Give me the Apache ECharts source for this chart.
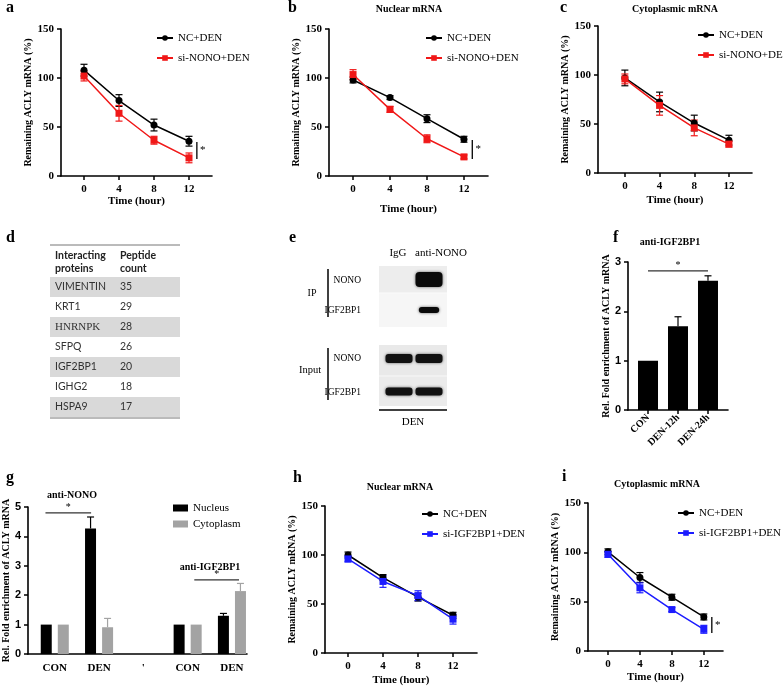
<!DOCTYPE html>
<html><head><meta charset="utf-8">
<script src="https://cdn.jsdelivr.net/npm/echarts@6/dist/echarts.min.js"></script>
<style>html,body{margin:0;padding:0;background:#fff}#c{width:783px;height:689px}</style>
</head><body><div id="c"></div><script>
// ---------- DATA ----------
const timePoints = [0, 4, 8, 12];
// panel a
const aNC = [108, 77, 52, 35.5];
const aNCErr = [6, 6, 6, 5];
const aSi = [102, 64, 36.5, 18.5];
const aSiErr = [5, 8, 4, 5];
const sigA = [12.9, 17.3, 34.7];
// panel b
const bNC = [98, 80, 58.5, 37.5];
const bNCErr = [3, 2, 4, 3];
const bSi = [103.5, 68, 38, 19.5];
const bSiErr = [5, 3, 4, 2];
const sigB = [12.9, 17.3, 36.7];
// panel c
const cNC = [97, 72.5, 51, 33.5];
const cNCErr = [8, 10, 8, 5];
const cSi = [96, 69, 46, 29.5];
const cSiErr = [5, 10, 8, 3];
// panel d (table)
const tableHeader = [['Interacting', 'proteins'], ['Peptide', 'count']];
const tableProteins = ['VIMENTIN', 'KRT1', 'HNRNPK', 'SFPQ', 'IGF2BP1', 'IGHG2', 'HSPA9'];
const tableCounts = [35, 29, 28, 26, 20, 18, 17];
// panel e (blot)
const blotLanes = ['IgG', 'anti-NONO'];
const blotIPRows = ['NONO', 'IGF2BP1'];
const blotIP = [[0, 1.0], [0, 0.45]];
const blotInputRows = ['NONO', 'IGF2BP1'];
const blotInput = [[0.75, 0.75], [0.7, 0.7]];
// panel f
const fCats = ['CON', 'DEN-12h', 'DEN-24h'];
const fVals = [1, 1.70, 2.62];
const fErr = [0, 0.19, 0.10];
const sigF = [0, 2, 2.82];
// panel g
const gCats = ['CON', 'DEN', "'", 'CON', 'DEN'];
const gPos = [0, 1, 3, 4];
const gNucleus = [1, 4.27, 1, 1.30];
const gNucleusErr = [0, 0.39, 0, 0.08];
const gCyto = [1, 0.91, 1, 2.14];
const gCytoErr = [0, 0.30, 0, 0.26];
const sigG = [[-0.21, 0.82, 4.8], [3.15, 4.16, 2.52]];
// panel h
const hNC = [100, 77, 57, 38.5];
const hNCErr = [3, 3, 4, 3];
const hSi = [96, 73, 58.5, 34.5];
const hSiErr = [3, 6, 5, 5];
// panel i
const iNC = [100.5, 74.5, 54.5, 34.5];
const iNCErr = [3, 5, 3, 3];
const iSi = [98, 64, 42, 22];
const iSiErr = [3, 5, 2, 4];
const sigI = [13, 18.2, 34.5];

// ---------- STYLE ----------
const serif = 'Liberation Serif';
const sans = 'Liberation Sans';
const RED = '#f01818', BLUE = '#1c1cff', BLACK = '#000', GREY = '#a3a3a3';

const chart = echarts.init(document.getElementById('c'), null, {renderer: 'canvas'});

const grids = [
  {left: 61, top: 29, width: 151, height: 147},   // 0 a
  {left: 329, top: 29, width: 159, height: 147},  // 1 b
  {left: 598, top: 26, width: 154, height: 147},  // 2 c
  {left: 628, top: 262, width: 100, height: 148}, // 3 f
  {left: 22, top: 507, width: 225, height: 147},  // 4 g
  {left: 325, top: 506, width: 152, height: 147}, // 5 h
  {left: 588, top: 503, width: 135, height: 148}  // 6 i
];

const axLine = {show: true, onZero: false, lineStyle: {color: '#000', width: 1.6}};
const tickSt = {color: '#000', width: 1.5};

function timeX(gi, min, max, nameGap) {
  return {
    type: 'value', gridIndex: gi, min, max,
    name: 'Time (hour)', nameLocation: 'middle', nameGap,
    nameTextStyle: {fontFamily: serif, fontWeight: 'bold', fontSize: 11, color: '#000'},
    axisLine: axLine,
    axisTick: {show: true, customValues: timePoints, length: 4, lineStyle: tickSt},
    axisLabel: {customValues: timePoints, fontFamily: serif, fontWeight: 'bold', fontSize: 11, color: '#000', margin: 8},
    splitLine: {show: false}
  };
}
function yAx(gi, max, interval, name, nameGap, labelFont) {
  return {
    type: 'value', gridIndex: gi, min: 0, max, interval,
    name, nameLocation: 'middle', nameGap,
    nameTextStyle: {fontFamily: serif, fontWeight: 'bold', fontSize: 10, color: '#000'},
    axisLine: axLine,
    axisTick: {show: true, length: 4, lineStyle: tickSt},
    axisLabel: {fontFamily: labelFont || serif, fontWeight: 'bold', fontSize: 11, color: '#000', margin: 7},
    splitLine: {show: false}
  };
}

const xAxes = [
  timeX(0, -2.63, 14.63, 19),
  timeX(1, -2.6, 14.6, 28),
  timeX(2, -3.1, 14.66, 22),
  {
    type: 'value', gridIndex: 3, min: -0.667, max: 2.667,
    axisLine: axLine,
    axisTick: {show: true, customValues: [0, 1, 2], length: 4, lineStyle: tickSt},
    axisLabel: {customValues: [0, 1, 2], formatter: v => fCats[Math.round(v)], rotate: 45,
      fontFamily: serif, fontWeight: 'bold', fontSize: 10, color: '#000', margin: 6},
    splitLine: {show: false}
  },
  {
    type: 'value', gridIndex: 4, min: -0.604, max: 4.34,
    axisLine: axLine,
    axisTick: {show: false},
    axisLabel: {customValues: [0, 1, 2, 3, 4], formatter: v => gCats[Math.round(v)],
      fontFamily: serif, fontWeight: 'bold', fontSize: 11, color: '#000', margin: 9},
    splitLine: {show: false}
  },
  timeX(5, -2.63, 14.74, 22),
  timeX(6, -2.5, 14.4, 21)
];
const yName = 'Remaining ACLY mRNA (%)';
const relName = 'Rel. Fold enrichment of ACLY mRNA';
const yAxes = [
  yAx(0, 150, 50, yName, 27),
  yAx(1, 150, 50, yName, 27),
  yAx(2, 150, 50, yName, 22),
  yAx(3, 3, 1, relName, 15, sans),
  yAx(4, 5, 1, relName, 11, sans),
  yAx(5, 150, 50, yName, 27),
  yAx(6, 150, 50, yName, 27)
];

function lineS(gi, name, vals, color, symbol) {
  return {type: 'line', name, xAxisIndex: gi, yAxisIndex: gi,
    data: vals.map((v, k) => [timePoints[k], v]),
    symbol, symbolSize: 7, showSymbol: true,
    lineStyle: {color, width: 1.5}, itemStyle: {color}, z: 4, animation: false};
}
function errS(gi, vals, errs, color, xs, offsetPx, upOnly) {
  return {type: 'custom', xAxisIndex: gi, yAxisIndex: gi, silent: true, z: 3, animation: false,
    encode: {x: 0, y: [1, 2]},
    data: vals.map((v, k) => [xs[k], upOnly ? v : v - errs[k], v + errs[k], errs[k]]),
    renderItem(params, api) {
      if (!api.value(3)) return null;
      const x = api.value(0);
      const lo = api.coord([x, api.value(1)]);
      const hi = api.coord([x, api.value(2)]);
      const px = lo[0] + (offsetPx || 0);
      const w = 3.5;
      const st = {stroke: color, lineWidth: 1.2};
      const ch = [
        {type: 'line', shape: {x1: px, y1: lo[1], x2: px, y2: hi[1]}, style: st},
        {type: 'line', shape: {x1: px - w, y1: hi[1], x2: px + w, y2: hi[1]}, style: st}
      ];
      if (!upOnly) ch.push({type: 'line', shape: {x1: px - w, y1: lo[1], x2: px + w, y2: lo[1]}, style: st});
      return {type: 'group', children: ch};
    }};
}
function sigV(gi, sig) {
  return {type: 'custom', xAxisIndex: gi, yAxisIndex: gi, silent: true, animation: false,
    encode: {x: 0, y: [1, 2]}, data: [sig],
    renderItem(params, api) {
      const a = api.coord([api.value(0), api.value(1)]);
      const b = api.coord([api.value(0), api.value(2)]);
      return {type: 'group', children: [
        {type: 'line', shape: {x1: a[0], y1: a[1], x2: b[0], y2: b[1]}, style: {stroke: '#000', lineWidth: 1.3}},
        {type: 'text', x: a[0] + 6, y: (a[1] + b[1]) / 2, style: {text: '*', fontFamily: serif, fontSize: 11, fill: '#000', align: 'center', verticalAlign: 'middle'}}
      ]};
    }};
}
function sigH(gi, sigs) {
  return {type: 'custom', xAxisIndex: gi, yAxisIndex: gi, silent: true, animation: false,
    encode: {x: [0, 1], y: 2}, data: sigs,
    renderItem(params, api) {
      const a = api.coord([api.value(0), api.value(2)]);
      const b = api.coord([api.value(1), api.value(2)]);
      return {type: 'group', children: [
        {type: 'line', shape: {x1: a[0], y1: a[1], x2: b[0], y2: b[1]}, style: {stroke: '#333', lineWidth: 1.3}},
        {type: 'text', x: (a[0] + b[0]) / 2, y: a[1] - 6, style: {text: '*', fontFamily: serif, fontSize: 10, fill: '#000', align: 'center', verticalAlign: 'middle'}}
      ]};
    }};
}

const series = [
  // a
  errS(0, aNC, aNCErr, BLACK, timePoints), errS(0, aSi, aSiErr, RED, timePoints),
  lineS(0, 'NC+DEN', aNC, BLACK, 'circle'), lineS(0, 'si-NONO+DEN', aSi, RED, 'rect'),
  sigV(0, sigA),
  // b
  errS(1, bNC, bNCErr, BLACK, timePoints), errS(1, bSi, bSiErr, RED, timePoints),
  lineS(1, 'NC+DEN', bNC, BLACK, 'circle'), lineS(1, 'si-NONO+DEN', bSi, RED, 'rect'),
  sigV(1, sigB),
  // c
  errS(2, cNC, cNCErr, BLACK, timePoints), errS(2, cSi, cSiErr, RED, timePoints),
  lineS(2, 'NC+DEN', cNC, BLACK, 'circle'), lineS(2, 'si-NONO+DEN', cSi, RED, 'rect'),
  // f
  {type: 'bar', name: 'fbars', xAxisIndex: 3, yAxisIndex: 3, barWidth: 20, animation: false,
    data: fVals.map((v, k) => [k, v]), itemStyle: {color: BLACK}},
  errS(3, fVals, fErr, BLACK, [0, 1, 2], 0, true),
  sigH(3, [sigF]),
  // g
  {type: 'bar', name: 'Nucleus', xAxisIndex: 4, yAxisIndex: 4, barWidth: 11, barGap: '55%', animation: false,
    data: gNucleus.map((v, k) => [gPos[k], v]), itemStyle: {color: BLACK}},
  {type: 'bar', name: 'Cytoplasm', xAxisIndex: 4, yAxisIndex: 4, barWidth: 11, barGap: '55%', animation: false,
    data: gCyto.map((v, k) => [gPos[k], v]), itemStyle: {color: GREY}},
  errS(4, gNucleus, gNucleusErr, BLACK, gPos, -8.5, true),
  errS(4, gCyto, gCytoErr, GREY, gPos, 8.5, true),
  sigH(4, sigG),
  // h
  errS(5, hNC, hNCErr, BLACK, timePoints), errS(5, hSi, hSiErr, BLUE, timePoints),
  lineS(5, 'NC+DEN', hNC, BLACK, 'circle'), lineS(5, 'si-IGF2BP1+DEN', hSi, BLUE, 'rect'),
  // i
  errS(6, iNC, iNCErr, BLACK, timePoints), errS(6, iSi, iSiErr, BLUE, timePoints),
  lineS(6, 'NC+DEN', iNC, BLACK, 'circle'), lineS(6, 'si-IGF2BP1+DEN', iSi, BLUE, 'rect'),
  sigV(6, sigI)
];

function leg(left, top, names, icon, gap) {
  const l = {orient: 'vertical', left, top, data: names, itemWidth: 16, itemHeight: 7, itemGap: gap,
    selectedMode: false,
    textStyle: {fontFamily: serif, fontSize: 11, color: '#000', lineHeight: 12, padding: [0, 0, 0, 0]}};
  if (icon) { l.icon = icon; l.itemWidth = 15; l.itemHeight = 7; }
  return l;
}
const legends = [
  leg(151, 27, ['NC+DEN', 'si-NONO+DEN'], null, 8),
  leg(420, 27, ['NC+DEN', 'si-NONO+DEN'], null, 8),
  leg(692, 24, ['NC+DEN', 'si-NONO+DEN'], null, 8),
  leg(168, 497, ['Nucleus', 'Cytoplasm'], 'rect', 4),
  leg(416, 503, ['NC+DEN', 'si-IGF2BP1+DEN'], null, 8),
  leg(672, 502, ['NC+DEN', 'si-IGF2BP1+DEN'], null, 8)
];

// ---------- GRAPHIC (labels, table, blot) ----------
const G = [];
function T(x, y, s, o) {
  G.push({type: 'text', x, y, silent: true, style: Object.assign({text: s, fill: '#000', fontFamily: serif, fontSize: 11,
    align: 'center', verticalAlign: 'middle'}, o || {})});
}
function R(x, y, w, h, fill, o) {
  G.push(Object.assign({type: 'rect', silent: true, shape: {x, y, width: w, height: h}, style: {fill}}, o || {}));
}
function L(x1, y1, x2, y2, w, c) {
  G.push({type: 'line', silent: true, shape: {x1, y1, x2, y2}, style: {stroke: c || '#000', lineWidth: w}});
}
const letterSt = {fontWeight: 'bold', fontSize: 16, align: 'left'};
T(6, 8, 'a', letterSt); T(288, 8, 'b', letterSt); T(560, 8, 'c', letterSt);
T(6, 238, 'd', letterSt); T(289, 238, 'e', letterSt); T(613, 238, 'f', letterSt);
T(6, 478, 'g', letterSt); T(293, 478, 'h', letterSt); T(562, 477, 'i', letterSt);
const ttl = {fontWeight: 'bold', fontSize: 10};
T(409, 9, 'Nuclear mRNA', ttl);
T(675, 9, 'Cytoplasmic mRNA', ttl);
T(670, 242, 'anti-IGF2BP1', ttl);
T(72, 495, 'anti-NONO', ttl);
T(210, 567, 'anti-IGF2BP1', ttl);
T(400, 487, 'Nuclear mRNA', ttl);
T(657, 484, 'Cytoplasmic mRNA', ttl);

// table d
const tx0 = 50, tx1 = 180, col2 = 120, rowTop = 277, rowH = 20;
L(tx0, 245, tx1, 245, 1, '#777');
const hdr = {fontFamily: 'Lato', fontWeight: 'bold', fontSize: 10.5, fill: '#222', align: 'left'};
T(55, 256, tableHeader[0][0], hdr); T(55, 269, tableHeader[0][1], hdr);
T(col2, 256, tableHeader[1][0], hdr); T(col2, 269, tableHeader[1][1], hdr);
tableProteins.forEach((p, k) => {
  const y = rowTop + k * rowH;
  if (k % 2 === 0) R(tx0, y, tx1 - tx0, rowH, '#d9d9d9');
  const st = {fontFamily: p === 'HNRNPK' ? serif : 'Lato', fontSize: p === 'HNRNPK' ? 11 : 10.5, fill: '#333', align: 'left'};
  T(55, y + rowH / 2, p, st);
  T(col2, y + rowH / 2, String(tableCounts[k]), Object.assign({}, st, {fontFamily: 'Lato', fontSize: 10.5}));
});
L(tx0, rowTop + tableProteins.length * rowH + 1, tx1, rowTop + tableProteins.length * rowH + 1, 1, '#777');

// blot e
const laneX = [399, 429], laneW = 27, bx0 = 379, bx1 = 447;
T(398, 253, blotLanes[0]); T(441, 253, blotLanes[1]);
R(bx0, 266, bx1 - bx0, 27, '#ededed'); R(bx0, 293, bx1 - bx0, 34, '#f6f6f6');
R(bx0, 345, bx1 - bx0, 31, '#e9e9e9'); R(bx0, 376, bx1 - bx0, 30, '#ebebeb');
L(bx0, 293, bx1, 293, 1, '#fafafa'); L(bx0, 376, bx1, 376, 1, '#f8f8f8');
const ipY = [279.5, 310], ipH = [15, 6];
blotIP.forEach((row, r) => row.forEach((v, l) => {
  if (!v) return;
  R(0, 0, 0, 0, '#0a0a0a',
    {shape: {x: laneX[l] - laneW / 2 + (1 - v) * 6, y: ipY[r] - ipH[r] / 2, width: laneW - (1 - v) * 12, height: ipH[r], r: 4},
     style: {fill: '#0a0a0a', shadowBlur: 3, shadowColor: 'rgba(0,0,0,0.6)'}});
}));
const inY = [358.5, 391.5], inH = [9, 8];
blotInput.forEach((row, r) => row.forEach((v, l) => {
  R(0, 0, 0, 0, '#000', {shape: {x: laneX[l] - laneW / 2, y: inY[r] - inH[r] / 2, width: laneW, height: inH[r], r: 3},
    style: {fill: '#111', shadowBlur: 3, shadowColor: 'rgba(0,0,0,0.6)'}});
}));
const rlab = {align: 'right', fontSize: 9.5};
T(361, 280, blotIPRows[0], rlab); T(361, 310, blotIPRows[1], rlab);
T(361, 358, blotInputRows[0], rlab); T(361, 392, blotInputRows[1], rlab);
T(312, 293, 'IP', {fontSize: 10}); T(310, 370, 'Input', {fontSize: 10.5});
L(328, 269, 328, 317, 1.5); L(328, 348, 328, 400, 1.5);
L(bx0, 410, bx1, 410, 1.5);
T(413, 422, 'DEN');

chart.setOption({
  animation: false,
  backgroundColor: '#fff',
  grid: grids,
  xAxis: xAxes,
  yAxis: yAxes,
  legend: legends,
  series,
  graphic: G
});
</script></body></html>
